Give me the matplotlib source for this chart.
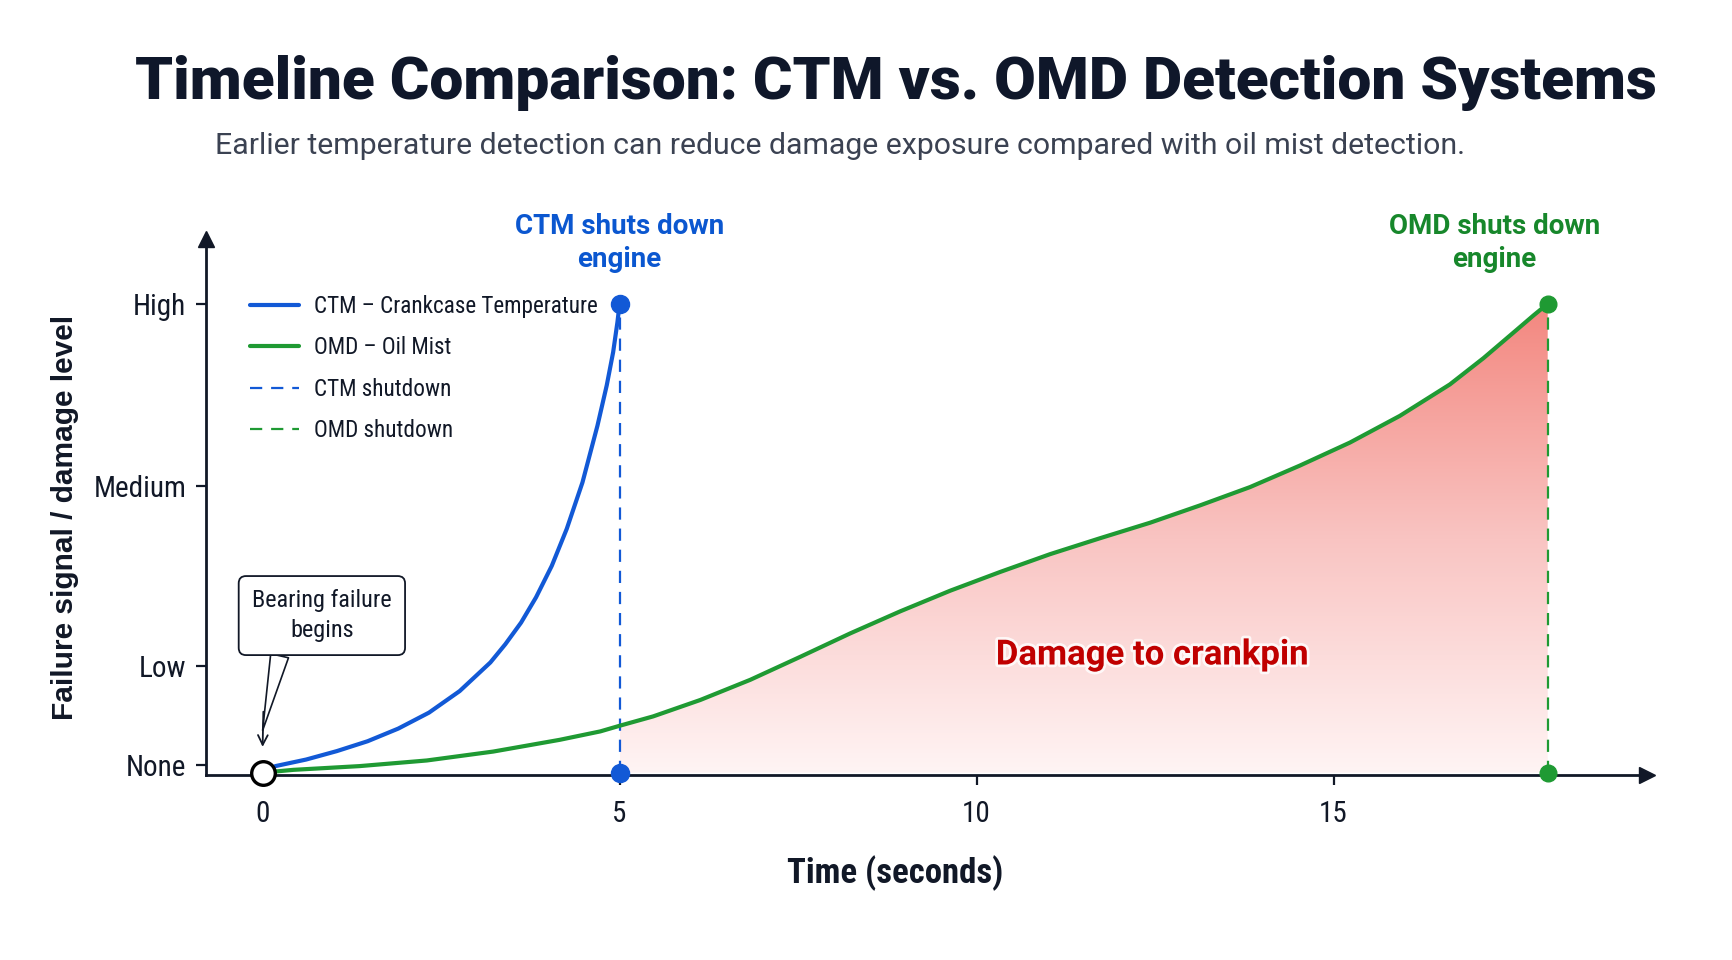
import numpy as np
import matplotlib.pyplot as plt
import matplotlib.patheffects as pe
from matplotlib.colors import LinearSegmentedColormap

# values (time in s, level 0 = none .. 1 = high)
ctm_t = [0, 0.18, 0.61, 1.04, 1.47, 1.90, 2.33, 2.76, 3.19, 3.40, 3.62, 3.83, 4.05, 4.26,
         4.48, 4.69, 4.82, 4.91, 4.97, 5.0]
ctm_y = [0, 0.014, 0.028, 0.046, 0.067, 0.094, 0.128, 0.174, 0.235, 0.274, 0.320, 0.374, 0.441, 0.520,
         0.619, 0.740, 0.826, 0.897, 0.961, 1.0]

omd_t = [0, 0.43, 1.36, 2.30, 3.23, 4.16, 4.73, 5.0, 5.47, 6.13, 6.83, 7.53, 8.23, 8.93, 9.63,
         10.33, 11.03, 11.73, 12.43, 13.13, 13.83, 14.53, 15.23, 15.93, 16.63, 17.10, 17.57, 17.80, 18.0]
omd_y = [0, 0.006, 0.014, 0.026, 0.045, 0.070, 0.088, 0.100, 0.120, 0.155, 0.198, 0.247, 0.297, 0.344, 0.388,
         0.428, 0.466, 0.500, 0.533, 0.570, 0.609, 0.655, 0.704, 0.761, 0.828, 0.884, 0.945, 0.975, 1.0]

ctm_stop = 5.0
omd_stop = 18.0
level_ticks = [0.016, 0.228, 0.612, 1.0]
level_labels = ['None', 'Low', 'Medium', 'High']
time_ticks = [0, 5, 10, 15]

BLUE = '#1259d6'
GREEN = '#1f9a33'
NAVY = '#111827'
narrow = ['Liberation Sans Narrow', 'Roboto Condensed', 'DejaVu Sans']
roboto = ['Roboto', 'DejaVu Sans']

fig = plt.figure(figsize=(17.32, 9.6), dpi=100)
ax = fig.add_axes([0.1189, 0.1927, 0.832, 0.5583])

ax.plot(ctm_t, ctm_y, color=BLUE, lw=3.0, label='CTM – Crankcase Temperature', zorder=4,
        solid_capstyle='round', solid_joinstyle='round')
ax.plot(omd_t, omd_y, color=GREEN, lw=3.0, label='OMD – Oil Mist', zorder=4,
        solid_capstyle='round', solid_joinstyle='round')
ax.plot([ctm_stop, ctm_stop], [0, 1], color=BLUE, lw=1.6, ls=(0, (5.5, 4)), label='CTM shutdown', zorder=3)
ax.plot([omd_stop, omd_stop], [0, 1], color=GREEN, lw=1.6, ls=(0, (5.5, 4)), label='OMD shutdown', zorder=3)

# damage area: vertical red gradient clipped to the area under the OMD curve
ot = np.array(omd_t)
oy = np.array(omd_y)
m = ot >= ctm_stop
area = ax.fill_between(ot[m], 0, oy[m], color='none', lw=0)
cmap = LinearSegmentedColormap.from_list('dmg', ['#fff4f4', '#f9c4c2', '#f3877f'])
grad = np.linspace(0, 1, 256).reshape(-1, 1)
img = ax.imshow(grad, extent=[ctm_stop, omd_stop, 0, 1], origin='lower', aspect='auto',
                cmap=cmap, zorder=1)
img.set_clip_path(area.get_paths()[0], transform=ax.transData)

# shutdown markers
ax.plot([ctm_stop, ctm_stop], [0, 1], 'o', color=BLUE, ms=13, zorder=6, clip_on=False)
ax.plot([omd_stop, omd_stop], [0, 1], 'o', color=GREEN, ms=12, zorder=6, clip_on=False)
ax.plot(0, 0, 'o', mfc='white', mec='black', ms=17, mew=2.4, zorder=7, clip_on=False)

ax.text(ctm_stop, 1.065, 'CTM shuts down\nengine', color='#0b57d0', fontsize=20, fontweight='semibold',
        ha='center', va='bottom', family=roboto, linespacing=1.3)
ax.text(17.25, 1.065, 'OMD shuts down\nengine', color='#17872b', fontsize=20, fontweight='semibold',
        ha='center', va='bottom', family=roboto, linespacing=1.3)

ax.text(12.46, 0.251, 'Damage to crankpin', color='#c00000', fontsize=25, fontweight='bold',
        ha='center', va='center', family=roboto, zorder=5,
        path_effects=[pe.withStroke(linewidth=4, foreground='white', alpha=0.8)])

# callout for failure start
ax.annotate('Bearing failure\nbegins', xy=(0.0, 0.09), xytext=(0.83, 0.335),
            ha='center', va='center', fontsize=17.5, family=narrow, color=NAVY, zorder=8,
            linespacing=1.35,
            bbox=dict(boxstyle='round,pad=0.55,rounding_size=0.3', fc='white', ec=NAVY, lw=1.3),
            arrowprops=dict(arrowstyle='wedge,tail_width=0.75', fc='white', ec=NAVY, lw=1.2,
                            relpos=(0.22, 0.0), shrinkA=0, shrinkB=0))
ax.annotate('', xy=(0, 0.055), xytext=(0.01, 0.13), zorder=8,
            arrowprops=dict(arrowstyle='->,head_length=0.7,head_width=0.35', color=NAVY, lw=1.3,
                            shrinkA=0, shrinkB=0))

ax.set_xlim(-0.794, 19.39)
ax.set_ylim(-0.005, 1.138)

for s in ['top', 'right']:
    ax.spines[s].set_visible(False)
for s in ['left', 'bottom']:
    ax.spines[s].set_color(NAVY)
    ax.spines[s].set_linewidth(2.0)
ax.plot(1, 0, '>', color=NAVY, ms=12, transform=ax.transAxes, clip_on=False)
ax.plot(0, 1, '^', color=NAVY, ms=12, transform=ax.transAxes, clip_on=False)

ax.set_yticks(level_ticks)
ax.set_yticklabels(level_labels, family=narrow, fontsize=21, color=NAVY)
ax.set_xticks(time_ticks)
ax.set_xticklabels([str(v) for v in time_ticks], family=narrow, fontsize=21, color=NAVY)
ax.tick_params(axis='y', length=7, width=1.6, color=NAVY, pad=7)
ax.tick_params(axis='x', length=7, width=1.6, color=NAVY, pad=11)

ax.set_ylabel('Failure signal / damage level', fontsize=21.5, fontweight='bold', color=NAVY,
              family=['Liberation Sans', 'DejaVu Sans'])
ax.yaxis.set_label_coords(-0.088, 0.481)
ax.set_xlabel('Time (seconds)', fontsize=25, fontweight='bold', color=NAVY, family=narrow)
ax.xaxis.set_label_coords(0.478, -0.150)

leg = ax.legend(loc='upper left', bbox_to_anchor=(0.016, 0.935), frameon=False,
                handlelength=2.1, handletextpad=0.65, labelspacing=0.80,
                prop={'family': narrow, 'size': 16.7})
for txt in leg.get_texts():
    txt.set_color(NAVY)

fig.text(0.517, 0.9135, 'Timeline Comparison: CTM vs. OMD Detection Systems', ha='center', va='center',
         fontsize=43.5, fontweight='heavy', color='#0f172a', family=roboto)
fig.text(0.485, 0.848, 'Earlier temperature detection can reduce damage exposure compared with oil mist detection.',
         ha='center', va='center', fontsize=21.8, color='#3b4252', family=roboto)

fig.savefig('out.png', dpi=100, facecolor='white')
